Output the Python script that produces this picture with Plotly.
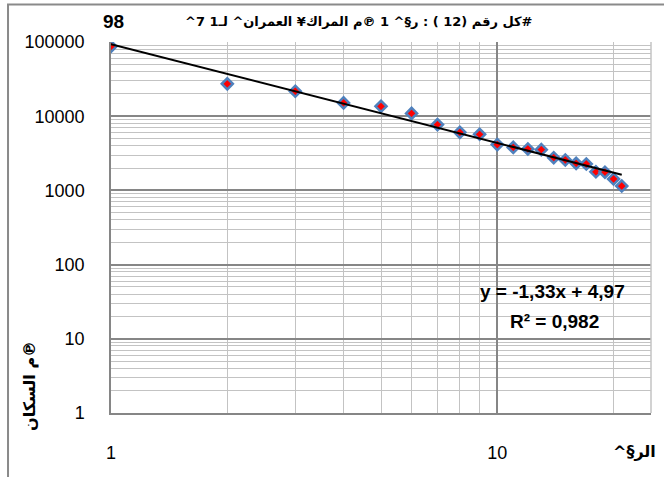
import numpy as np
import plotly.graph_objects as go

# Rank of each urban centre and its population
ranks = [1, 2, 3, 4, 5, 6, 7, 8, 9, 10, 11, 12, 13, 14, 15, 16, 17, 18, 19, 20, 21]
population = [87000, 27300, 21700, 15100, 13600, 10900, 7700, 6060, 5700, 4140,
              3800, 3620, 3540, 2760, 2570, 2315, 2270, 1780, 1760, 1425, 1146]

# Rank-size trend: log(y) = slope * log(x) + intercept
slope = -1.33
intercept = 4.97
r_squared = 0.982

x_tick_vals = [1, 10]
x_tick_text = ["1", "10"]
y_tick_vals = [1, 10, 100, 1000, 10000, 100000]
y_tick_text = ["1", "10", "100", "1000", "10000", "100000"]

title_text = "#كل رقم (12 ) : ر§^ 1 ℗م المراك¥ العمران^ لـ1 7^"
year_text = "98"
x_title = "الر§^"
y_title = "℗م السكان"

RLE, PDF = "\u202B", "\u202C"

trend_y = [10 ** (intercept + slope * np.log10(r)) for r in ranks]

fig = go.Figure()
fig.add_trace(go.Scatter(
    x=ranks, y=population, mode="markers",
    marker=dict(symbol="diamond", size=8.5, color="#ff0000",
                line=dict(color="#4f81bd", width=2.5)),
    showlegend=False, hoverinfo="skip",
))
fig.add_trace(go.Scatter(
    x=ranks, y=trend_y, mode="lines",
    line=dict(color="black", width=2),
    showlegend=False, hoverinfo="skip",
))

major_grid = "#868686"
minor_grid = "#c3c3c3"
tick_font = dict(family="Liberation Sans, Arial, sans-serif", size=18, color="black")

fig.update_xaxes(
    type="log", range=[0, np.log10(25)],
    tickmode="array", tickvals=x_tick_vals, ticktext=x_tick_text,
    showgrid=True, gridcolor=major_grid, gridwidth=1.5,
    minor=dict(dtick="D1", showgrid=True, gridcolor=minor_grid, gridwidth=1.3, ticks=""),
    showline=True, linecolor=major_grid, linewidth=1.5,
    ticks="", ticklabelstandoff=23, tickfont=tick_font, zeroline=False,
)
fig.update_yaxes(
    type="log", range=[0, 5],
    tickmode="array", tickvals=y_tick_vals, ticktext=y_tick_text,
    showgrid=True, gridcolor=major_grid, gridwidth=1.5,
    minor=dict(dtick="D1", showgrid=True, gridcolor=minor_grid, gridwidth=1.3, ticks=""),
    showline=True, linecolor=major_grid, linewidth=1.5,
    ticks="", ticklabelstandoff=21, tickfont=tick_font, zeroline=False,
)

bold_ar = "DejaVu Sans, sans-serif"
bold_lat = "Liberation Sans, Arial, sans-serif"

eq_text = "y = %sx + %s" % (f"{slope:.2f}".replace(".", ","), f"{intercept:.2f}".replace(".", ","))
r2_text = "R² = %s" % f"{r_squared:.3f}".replace(".", ",")

annotations = [
    dict(text="<b>" + RLE + title_text + PDF + "</b>", x=0.46, y=1.055,
         font=dict(family=bold_ar, size=13, color="black")),
    dict(text="<b>" + year_text + "</b>", x=0.004, y=1.055,
         font=dict(family=bold_lat, size=19, color="black")),
    dict(text="<b>" + eq_text + "</b>", x=0.8185, y=0.3266,
         font=dict(family=bold_lat, size=19, color="black")),
    dict(text="<b>" + r2_text + "</b>", x=0.822, y=0.2456,
         font=dict(family=bold_lat, size=19, color="black")),
    dict(text="<b>" + RLE + x_title + PDF + "</b>", x=0.970, y=-0.105,
         font=dict(family=bold_ar, size=16, color="black")),
    dict(text="<b>" + RLE + y_title + PDF + "</b>", x=-0.150, y=0.073, textangle=-90,
         font=dict(family=bold_ar, size=16, color="black")),
]
for a in annotations:
    a.update(xref="paper", yref="paper", showarrow=False, xanchor="center", yanchor="middle")

fig.update_layout(
    width=664, height=477,
    margin=dict(l=111, r=13, t=42, b=64),
    paper_bgcolor="white", plot_bgcolor="white",
    annotations=annotations,
    shapes=[
        # right edge of the plotting area
        dict(type="line", xref="paper", yref="paper", x0=1, x1=1, y0=0, y1=1,
             line=dict(color=minor_grid, width=1.5)),
        # chart frame
        dict(type="rect", xref="paper", yref="paper", x0=-0.1907, x1=2, y0=-2, y1=1.101,
             line=dict(color="#8a8a8a", width=2), layer="below"),
    ],
)

fig.write_html("out.html")
